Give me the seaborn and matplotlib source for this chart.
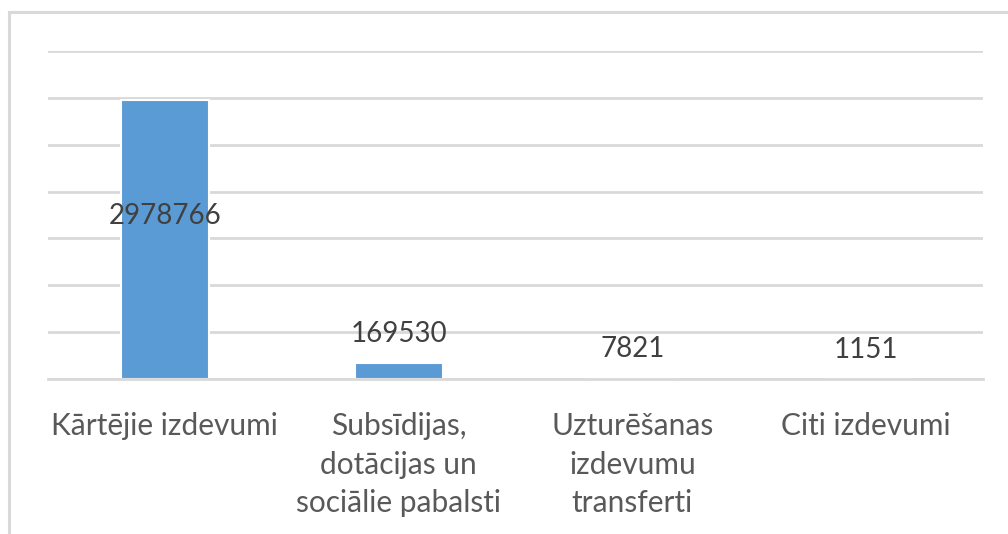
import matplotlib
matplotlib.use("Agg")
import matplotlib.pyplot as plt
import seaborn as sns
import pandas as pd
from matplotlib.patches import Rectangle
from matplotlib.ticker import MultipleLocator, FixedLocator

categories = [
    "Kārtējie izdevumi",
    "Subsīdijas,\ndotācijas un\nsociālie pabalsti",
    "Uzturēšanas\nizdevumu\ntransferti",
    "Citi izdevumi",
]
values = [2978766, 169530, 7821, 1151]

df = pd.DataFrame({"category": categories, "value": values})

sns.set_style("white")
plt.rcParams["font.family"] = ["Lato", "DejaVu Sans"]

W, H = 1008, 534
fig = plt.figure(figsize=(W / 100, H / 100), dpi=100)
ax = fig.add_axes([48 / W, (H - 379) / H, 935 / W, 328 / H])

sns.barplot(data=df, x="category", y="value", color="#5B9BD5", saturation=1,
            width=0.376, edgecolor="white", linewidth=1.5, ax=ax, zorder=3)

ax.set_ylim(0, 3500000)
ax.set_xlim(-0.5, 3.5)
ax.yaxis.set_major_locator(MultipleLocator(500000))
ax.grid(axis="y", color="#D9D9D9", linewidth=2, zorder=0)
ax.set_axisbelow(True)
ax.tick_params(axis="y", left=False, labelleft=False)
for s in ["left", "right", "top"]:
    ax.spines[s].set_visible(False)
ax.spines["bottom"].set_color("#D9D9D9")
ax.spines["bottom"].set_linewidth(2)
ax.spines["bottom"].set_zorder(5)

ax.xaxis.set_minor_locator(FixedLocator([-0.5, 0.5, 1.5, 2.5, 3.5]))
ax.tick_params(axis="x", which="minor", length=6, width=2, color="#D9D9D9", direction="out")
ax.tick_params(axis="x", which="major", length=0, pad=24, labelsize=21.5, labelcolor="#595959")
for lbl in ax.get_xticklabels():
    lbl.set_linespacing(1.45)
ax.set_xlabel("")
ax.set_ylabel("")

# data labels: first one sits inside the tall bar, the rest above
for i, p in enumerate(ax.patches):
    v = values[i]
    x = p.get_x() + p.get_width() / 2
    if i == 0:
        ax.annotate(f"{v}", (x, v / 2), xytext=(0, 17), textcoords="offset points",
                    ha="center", va="center", fontsize=20, color="#404040")
    else:
        ax.annotate(f"{v}", (x, v), xytext=(0, 21), textcoords="offset points",
                    ha="center", va="center", fontsize=20, color="#404040")

# light frame around the chart (cut off at right and bottom)
fig.add_artist(Rectangle((9 / W, -0.1), 1.2, (H - 12) / H + 0.1, transform=fig.transFigure,
                         fill=False, edgecolor="#D9D9D9", linewidth=2.2, clip_on=False))

fig.savefig("out.png", dpi=100)
